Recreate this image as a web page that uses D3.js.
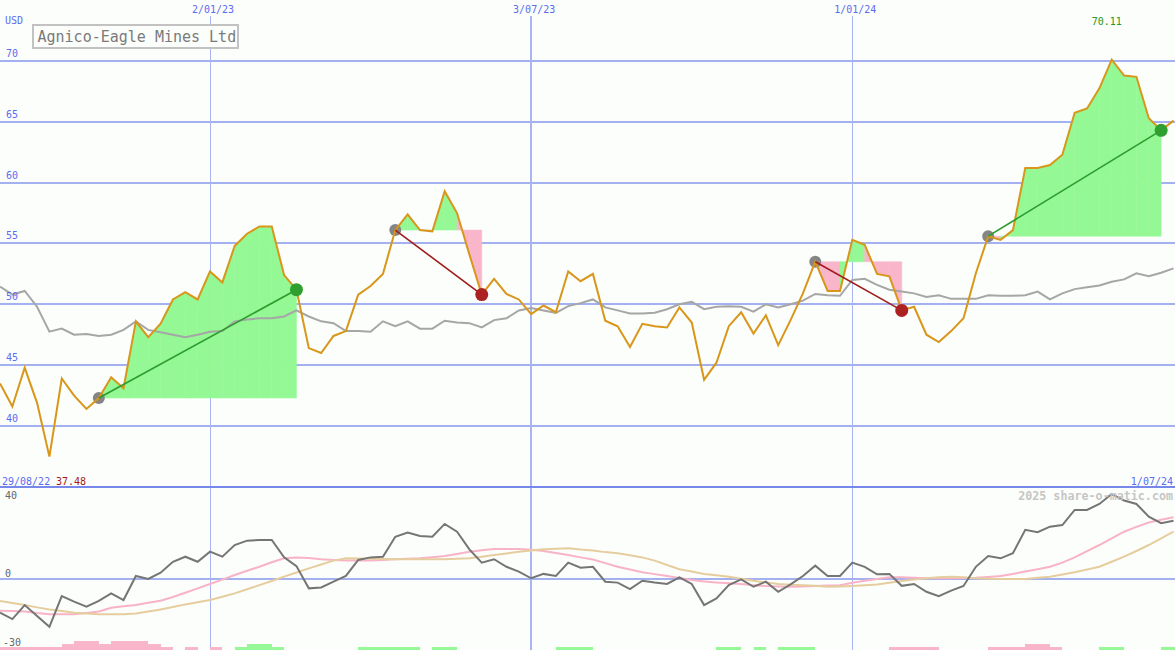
<!DOCTYPE html>
<html><head><meta charset="utf-8">
<script src="https://cdn.jsdelivr.net/npm/d3@7"></script>
<style>body{margin:0;background:#fbfefb;} svg{display:block}</style>
</head><body><svg id="c" width="1175" height="650"></svg>
<script>
// ---------- data ----------
const title = "Agnico-Eagle Mines Ltd";
const currency = "USD";
const firstWeek = "2022-09-05";          // date of the first weekly point
const rangeStartLabel = "29/08/22";
const rangeEndLabel = "1/07/24";
const watermark = "2025 share-o-matic.com";

// weekly closing price (USD)
const price = [
 43.5,41.6,44.8,41.9,37.48,43.9,42.5,41.4,42.3,44.0,
 43.1,48.6,47.3,48.4,50.4,51.0,50.4,52.7,51.8,54.8,
 55.8,56.4,56.4,52.4,51.2,46.4,46.0,47.4,47.8,50.8,
 51.5,52.5,56.1,57.4,56.1,56.0,59.3,57.5,54.1,50.8,
 52.1,50.85,50.4,49.2,49.9,49.35,52.7,51.9,52.5,48.65,
 48.2,46.5,48.4,48.2,48.1,49.75,48.5,43.8,45.2,48.2,
 49.35,47.6,49.1,46.65,48.7,50.9,53.5,51.1,51.1,55.3,
 54.9,52.5,52.3,49.5,49.8,47.5,46.9,47.8,48.85,52.55,
 55.6,55.3,56.1,61.2,61.2,61.45,62.3,65.75,66.1,67.75,
 70.11,68.8,68.7,65.3,64.3,65.1
];
// comparison index line (grey)
const compare = [
 51.45,50.8,51.1,49.8,47.75,48.0,47.5,47.55,47.4,47.5,
 47.9,48.6,47.9,47.7,47.5,47.3,47.5,47.75,47.8,48.6,
 48.75,48.85,48.85,49.0,49.5,49.0,48.6,48.45,47.8,47.8,
 47.75,48.6,48.2,48.6,48.0,48.0,48.65,48.5,48.45,48.1,
 48.7,48.85,49.5,49.7,49.5,49.3,49.85,50.1,50.4,49.75,
 49.5,49.25,49.25,49.3,49.6,50.0,50.2,49.6,49.8,49.85,
 49.8,49.4,50.0,49.75,50.0,50.3,50.85,50.75,50.7,52.0,
 52.1,51.6,51.2,51.05,50.9,50.6,50.75,50.45,50.45,50.45,
 50.75,50.7,50.7,50.75,51.05,50.4,50.9,51.25,51.4,51.55,
 51.85,52.05,52.55,52.3,52.6,52.95
];
// momentum oscillator (dark grey)
const osc = [
 -14.8,-17.6,-11.5,-16.3,-21.0,-7.6,-10.0,-12.2,-9.7,-6.4,
 -9.3,1.2,-0.1,2.6,7.4,9.6,7.4,11.8,9.6,14.7,
 16.6,16.9,16.9,9.3,5.5,-4.2,-3.8,-1.3,1.2,8.2,
 9.3,9.6,18.3,20.1,18.6,18.3,23.9,20.5,12.8,7.0,
 8.5,5.2,3.1,0.2,2.1,1.2,7.0,4.8,5.2,-1.3,
 -1.7,-4.5,-0.9,-1.7,-2.3,0.6,-2.3,-11.5,-8.6,-2.8,
 -0.3,-3.5,-1.3,-5.7,-2.5,1.2,5.7,1.2,1.2,7.0,
 5.2,1.9,2.1,-3.1,-2.3,-5.7,-7.6,-5.2,-3.2,5.2,
 9.9,8.9,11.1,21.3,20.3,22.7,23.4,30.0,30.0,32.6,
 37.0,34.1,32.6,27.1,24.2,25.3
];
// faster average of the oscillator (pink)
const oscFast = [
 -14.0,-14.1,-14.3,-15.0,-15.5,-15.5,-15.5,-15.0,-14.3,-12.7,
 -12.0,-11.5,-10.5,-9.6,-8.0,-6.1,-4.2,-2.3,-0.4,1.6,
 3.5,5.2,7.2,8.9,9.3,9.0,8.5,8.2,7.9,7.9,
 7.9,8.2,8.5,8.7,8.9,9.4,9.9,10.8,11.8,12.4,
 13.0,13.0,13.0,12.6,12.1,11.2,10.3,9.3,8.4,6.8,
 5.2,4.0,2.8,2.0,1.2,0.3,-0.6,-1.2,-1.7,-2.0,
 -2.3,-2.8,-3.2,-3.4,-3.5,-3.4,-3.2,-3.0,-2.8,-1.8,
 -0.9,-0.1,0.6,0.6,0.4,0.2,0.2,0.2,0.3,0.4,
 0.8,1.2,2.1,3.1,4.1,5.2,7.0,9.3,12.0,14.7,
 17.6,20.5,22.6,24.5,25.7,26.8
];
// slower average of the oscillator (tan)
const oscSlow = [
 -9.7,-10.6,-11.5,-12.5,-13.4,-14.1,-14.8,-15.2,-15.5,-15.5,
 -15.5,-15.2,-14.3,-13.4,-12.3,-11.2,-10.3,-9.3,-7.9,-6.4,
 -4.6,-2.8,-1.0,0.9,2.7,4.5,6.2,7.9,8.9,8.8,
 8.7,8.6,8.5,8.5,8.5,8.5,8.5,8.7,8.9,9.6,
 10.3,11.0,11.8,12.3,12.8,13.1,13.3,12.7,12.3,11.6,
 11.1,10.2,9.3,7.9,6.0,4.1,3.1,2.1,1.5,0.9,
 0.0,-0.9,-1.6,-2.3,-2.6,-2.8,-3.1,-3.5,-3.4,-3.2,
 -2.9,-2.5,-1.8,-1.0,-0.4,0.2,0.6,0.9,0.6,0.2,
 0.0,-0.1,-0.1,-0.1,0.4,0.9,1.8,2.8,4.0,5.2,
 7.4,9.6,12.1,14.7,17.6,20.5
];
// signal strip at the bottom (+ green / - pink, strength 1..3)
const signalBars = [
 -1,-1,-1,-1,-1,-2,-3,-3,-2,-3,
 -3,-3,-2,-1,0,-1,0,-1,0,1,
 2,2,1,0,0,0,0,0,0,1,
 1,1,1,1,0,1,1,0,0,0,
 0,0,0,0,0,1,1,1,0,0,
 0,0,0,0,0,0,0,0,1,1,
 0,1,0,1,1,1,0,0,0,0,
 0,0,-1,-1,-1,-1,0,0,0,0,
 -1,-1,-1,-2,-2,-1,0,0,0,1,
 1,0,0,0,1,1
];
// trend segments: [start week index, end week index]
const trendStarts = [8, 32, 66, 80];
const trendEnds   = [24, 39, 73, 94];

const priceTicks = [40,45,50,55,60,65,70];
const panelSplit = 35;
const oscTicks = [40,0,-30];
const dateTicks = ["2023-01-02","2023-07-03","2024-01-01"];
const dateTickLabels = ["2/01/23","3/07/23","1/01/24"];

// ---------- drawing ----------
const W = 1175, H = 650;
const svg = d3.select("#c");
const mono = "'DejaVu Sans Mono', monospace";
const parse = d3.utcParse("%Y-%m-%d");
const t0 = parse(firstWeek);
const dateOf = i => d3.utcDay.offset(t0, 7*i);
const n = price.length;

const x = d3.scaleUtc().domain([t0, dateOf(n-1)]).range([0, 1173.5]);
const xi = i => x(dateOf(i));
const yP = d3.scaleLinear().domain([35,70]).range([486.8, 61]);
const yO = d3.scaleLinear().domain([-30,40]).range([647.5, 487]);
const yB = d3.scaleLinear().domain([0,3]).range([650, 641]);

svg.append("rect").attr("width",W).attr("height",H).attr("fill","#fbfefb");

const grid = svg.append("g").attr("shape-rendering","crispEdges");
// horizontal price grid
priceTicks.forEach(t=>{
  const y = Math.round(yP(t));
  grid.append("line").attr("x1",0).attr("x2",W).attr("y1",y).attr("y2",y)
    .attr("stroke","#a4b1f0").attr("stroke-width",2);
});
// oscillator zero line
grid.append("line").attr("x1",0).attr("x2",W).attr("y1",Math.round(yO(0))).attr("y2",Math.round(yO(0)))
  .attr("stroke","#a4b1f0").attr("stroke-width",2);
// vertical date lines
dateTicks.forEach(d=>{
  const dt = parse(d);
  const thick = dt.getUTCMonth() === 6;
  const xv = Math.round(x(dt)) + (thick ? 0 : 0.5);
  grid.append("line").attr("x1",xv).attr("x2",xv).attr("y1",16).attr("y2",H)
    .attr("stroke","#a9b5f2").attr("stroke-width",thick?2:1);
});
// panel separator
grid.append("line").attr("x1",0).attr("x2",W).attr("y1",Math.round(yP(panelSplit))).attr("y2",Math.round(yP(panelSplit)))
  .attr("stroke","#7887ea").attr("stroke-width",2);

// signal strip
const bars = svg.append("g").attr("shape-rendering","crispEdges");
signalBars.forEach((v,i)=>{
  if(!v) return;
  const x0 = Math.round(xi(i)), x1 = Math.round(xi(i+1));
  bars.append("rect").attr("x",x0).attr("width",x1-x0)
    .attr("y",yB(Math.abs(v))).attr("height",yB(0)-yB(Math.abs(v)))
    .attr("fill", v>0 ? "#96f896" : "#f9b5ca");
});

// trend fills
const GREEN_FILL = "#94f894", PINK_FILL = "#f9b6ca";
const fills = svg.append("g");
trendStarts.forEach((s,k)=>{
  const e = trendEnds[k];
  const base = price[s], yb = yP(base);
  for(let i=s;i<e;i++){
    const pts = [[xi(i),yb],[xi(i),yP(price[i])],[xi(i+1),yP(price[i+1])],[xi(i+1),yb]];
    fills.append("polygon").attr("points",pts.map(p=>p.join(",")).join(" "))
      .attr("fill", price[i+1] >= base ? GREEN_FILL : PINK_FILL)
      .attr("stroke", price[i+1] >= base ? GREEN_FILL : PINK_FILL).attr("stroke-width",0.5);
  }
});

const lineP = d3.line().x((d,i)=>xi(i)).y(d=>yP(d));
const lineO = d3.line().x((d,i)=>xi(i)).y(d=>yO(d));

svg.append("path").attr("d",lineP(compare)).attr("fill","none").attr("stroke","#a6a6a6").attr("stroke-width",2);

// start dots (under the price line)
trendStarts.forEach(s=>{
  svg.append("circle").attr("cx",xi(s)).attr("cy",yP(price[s])).attr("r",6).attr("fill","#858585");
});

svg.append("path").attr("d",lineP(price)).attr("fill","none").attr("stroke","#d8961a")
  .attr("stroke-width",2).attr("stroke-linejoin","miter");

// trend lines and end dots
trendStarts.forEach((s,k)=>{
  const e = trendEnds[k];
  const up = price[e] >= price[s];
  svg.append("line").attr("x1",xi(s)).attr("y1",yP(price[s])).attr("x2",xi(e)).attr("y2",yP(price[e]))
    .attr("stroke", up ? "#2c9c2c" : "#a01c1c").attr("stroke-width",1.6);
  svg.append("circle").attr("cx",xi(e)).attr("cy",yP(price[e])).attr("r",6.5)
    .attr("fill", up ? "#2f9f2f" : "#ac2222");
});

// oscillator panel lines
svg.append("path").attr("d",lineO(oscFast)).attr("fill","none").attr("stroke","#f8b3c6").attr("stroke-width",2);
svg.append("path").attr("d",lineO(oscSlow)).attr("fill","none").attr("stroke","#e6cd9e").attr("stroke-width",2);
svg.append("path").attr("d",lineO(osc)).attr("fill","none").attr("stroke","#757575").attr("stroke-width",2);

// ---------- text ----------
const txt = (s,xv,yv,opt={}) => svg.append("text").text(s).attr("x",xv).attr("y",yv)
  .attr("font-family",opt.family||mono).attr("font-size",opt.size||10)
  .attr("fill",opt.fill||"#5c6cf0").attr("text-anchor",opt.anchor||"start")
  .attr("font-weight",opt.weight||"normal");

txt(currency, 5, 24);
priceTicks.forEach(t=> txt(String(t), 6, Math.round(yP(t))-4));
dateTicks.forEach((d,i)=> txt(dateTickLabels[i], x(parse(d))+3, 13, {anchor:"middle"}));

// oscillator tick labels
txt(String(oscTicks[0]), 5, Math.round(yO(oscTicks[0]))+12, {fill:"#666"});
txt(String(oscTicks[1]), 5, Math.round(yO(oscTicks[1]))-2, {fill:"#666"});
txt(String(oscTicks[2]), 3, Math.round(yO(oscTicks[2]))-2, {fill:"#666"});

// range labels
txt(rangeStartLabel, 2, 485);
const minIdx = d3.minIndex(price), maxIdx = d3.maxIndex(price);
txt(d3.format(".2f")(price[minIdx]), 56, 485, {fill:"#a01c1c"});
txt(rangeEndLabel, 1173, 485, {anchor:"end"});
txt(d3.format(".2f")(price[maxIdx]), xi(maxIdx)-5, 25, {anchor:"middle", fill:"#229922"});

// watermark
txt(watermark, 1173, 500, {anchor:"end", size:11.7, fill:"#c6c6c6", weight:"bold"});

// title box
svg.append("rect").attr("x",33).attr("y",25).attr("width",205).attr("height",23)
  .attr("fill","#fbfefb").attr("stroke","#c2c2c2").attr("stroke-width",2);
txt(title, 37.5, 42, {size:15, fill:"#7a7a7a"});
</script>
</body></html>
